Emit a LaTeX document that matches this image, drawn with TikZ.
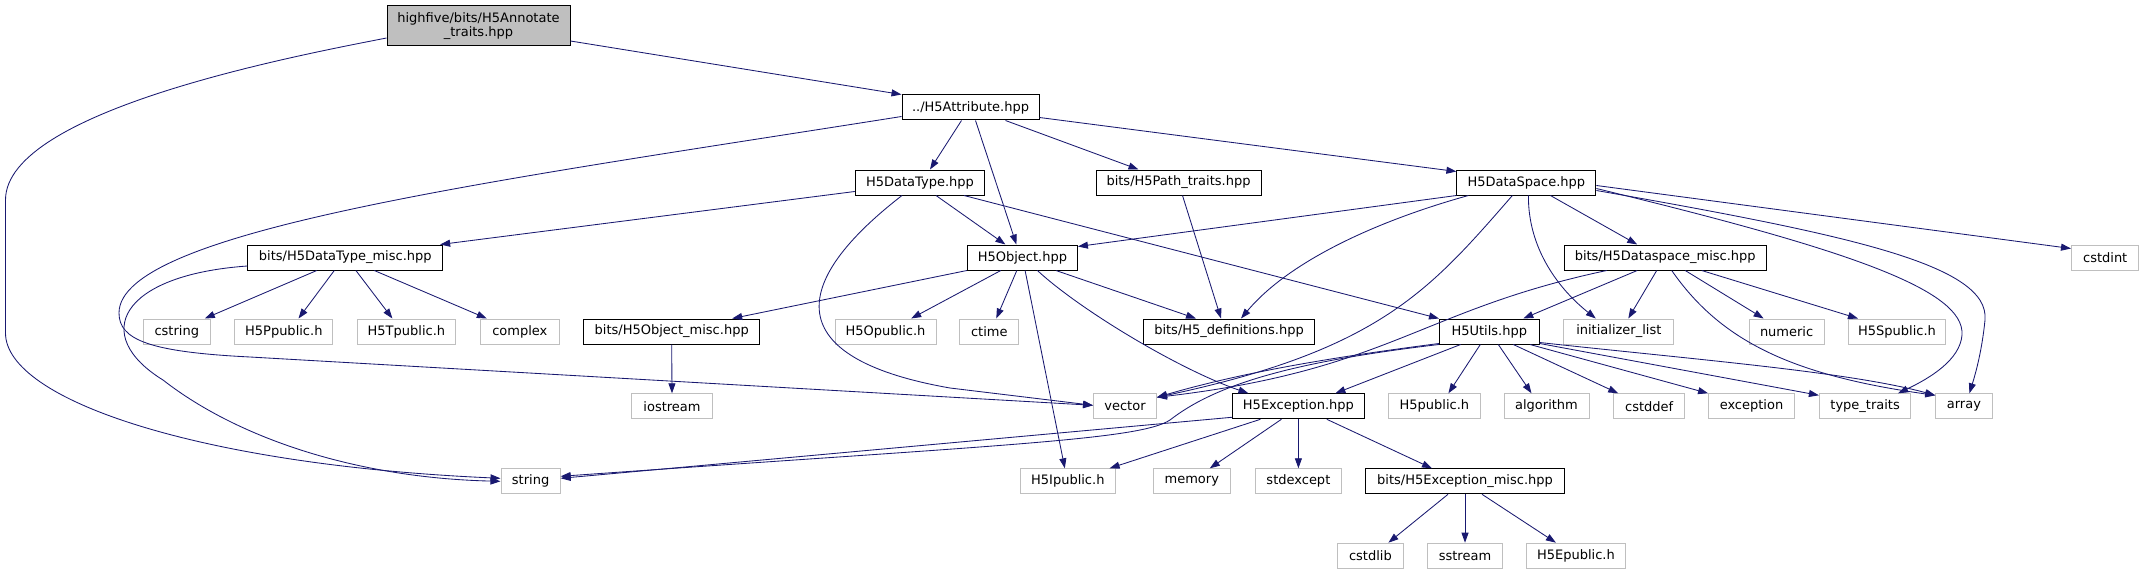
\documentclass[tikz,border=0pt]{standalone}
\usepackage{fontspec}
\setmainfont{DejaVu Sans}
\usepackage{xcolor}
\usepackage{tikz}
\usetikzlibrary{arrows.meta}

\definecolor{edgeblue}{HTML}{191970}
\definecolor{boxgray}{HTML}{BFBFBF}

\begin{document}
\begin{tikzpicture}[x=1pt,y=-1pt,>={Triangle[length=10pt,width=7pt]},
    hdr/.style={draw=black, fill=white, line width=1pt, minimum height=25pt,
      inner sep=0pt, font=\fontsize{13}{14.5}\selectfont},
    sys/.style={hdr, draw=boxgray},
    top/.style={hdr, fill=boxgray, minimum height=40pt, align=center},
    dep/.style={->, draw=edgeblue, line width=0.85pt}]
    \useasboundingbox (0,0) rectangle (2144,575);

    % header boxes
    \node[top, minimum width=183pt] (root) at (478.5,26)
      {highfive/bits/H5Annotate\\\_traits.hpp};
    \node[hdr, minimum width=137pt] (attr) at (970.5,107.5) {../H5Attribute.hpp};
    \node[hdr, minimum width=129.5pt] (dtype) at (920,182.5) {H5DataType.hpp};
    \node[hdr, minimum width=165pt] (ptraits) at (1178.5,182.5) {bits/H5Path\_traits.hpp};
    \node[hdr, minimum width=139pt] (dspace) at (1526.4,182.5) {H5DataSpace.hpp};
    \node[hdr, minimum width=194.7pt] (dtmisc) at (345.3,257.5) {bits/H5DataType\_misc.hpp};
    \node[hdr, minimum width=110pt] (obj) at (1022.4,257.5) {H5Object.hpp};
    \node[hdr, minimum width=202pt] (dsmisc) at (1665.2,257.5) {bits/H5Dataspace\_misc.hpp};
    \node[hdr, minimum width=176pt] (omisc) at (671.7,331.5) {bits/H5Object\_misc.hpp};
    \node[hdr, minimum width=170.8pt] (defs) at (1229,331.5) {bits/H5\_definitions.hpp};
    \node[hdr, minimum width=99.7pt] (utils) at (1489.3,331.5) {H5Utils.hpp};
    \node[hdr, minimum width=132.3pt] (exc) at (1298.4,406.3) {H5Exception.hpp};
    \node[hdr, minimum width=199pt] (exmisc) at (1465,481.3) {bits/H5Exception\_misc.hpp};

    % system headers
    \node[sys, minimum width=67.4pt] (cstdint) at (2105.2,257.5) {cstdint};
    \node[sys, minimum width=67pt] (cstring) at (176.8,331.5) {cstring};
    \node[sys, minimum width=98.3pt] (ppub) at (283.8,331.5) {H5Ppublic.h};
    \node[sys, minimum width=98.3pt] (tpub) at (406.4,331.5) {H5Tpublic.h};
    \node[sys, minimum width=79pt] (complex) at (519.8,331.5) {complex};
    \node[sys, minimum width=101pt] (opub) at (885.5,331.5) {H5Opublic.h};
    \node[sys, minimum width=58.8pt] (ctime) at (989.3,331.5) {ctime};
    \node[sys, minimum width=110.3pt] (initlist) at (1618.8,331.5) {initializer\_list};
    \node[sys, minimum width=74.8pt] (numeric) at (1786.6,331.5) {numeric};
    \node[sys, minimum width=97.9pt] (spub) at (1897,331.5) {H5Spublic.h};
    \node[sys, minimum width=80.3pt] (iostream) at (672,406.3) {iostream};
    \node[sys, minimum width=62.9pt] (vector) at (1125,406.3) {vector};
    \node[sys, minimum width=91.2pt] (hpub) at (1434.4,406.3) {H5public.h};
    \node[sys, minimum width=85pt] (algorithm) at (1546.5,406.3) {algorithm};
    \node[sys, minimum width=70.7pt] (cstddef) at (1649.2,406.3) {cstddef};
    \node[sys, minimum width=85.9pt] (exception) at (1751.5,406.3) {exception};
    \node[sys, minimum width=91.4pt] (typetraits) at (1865.1,406.3) {type\_traits};
    \node[sys, minimum width=56.3pt] (array) at (1963.9,406.3) {array};
    \node[sys, minimum width=59.2pt] (string) at (530.6,481.3) {string};
    \node[sys, minimum width=94.6pt] (ipub) at (1067.8,481.3) {H5Ipublic.h};
    \node[sys, minimum width=77.2pt] (memory) at (1191.8,481.3) {memory};
    \node[sys, minimum width=86.3pt] (stdexcept) at (1298.4,481.3) {stdexcept};
    \node[sys, minimum width=65.2pt] (cstdlib) at (1370.4,555.7) {cstdlib};
    \node[sys, minimum width=74.3pt] (sstream) at (1465,555.7) {sstream};
    \node[sys, minimum width=98.3pt] (epub) at (1575.9,555.7) {H5Epublic.h};

    % root includes
    \draw[dep] ([yshift=-15pt]root.east) -- (attr.north west);
    \draw[dep] ([yshift=-12pt]root.west) .. controls (300,55) and (5.5,110) .. (5.5,200)
      -- (5.5,333) .. controls (5.5,400) and (200,465) .. ([yshift=3pt]string.west);

    % H5Attribute.hpp
    \draw[dep] ([xshift=-9pt]attr.south) -- ([xshift=10pt]dtype.north);
    \draw[dep] ([xshift=5pt]attr.south) -- ([xshift=-6pt]obj.north);
    \draw[dep] ([xshift=35pt]attr.south) -- ([xshift=-40pt]ptraits.north);
    \draw[dep] ([yshift=-10pt]attr.east) -- ([yshift=-2pt]dspace.north west);
    \draw[dep] ([yshift=-9pt]attr.west) .. controls (500,180) and (119,230) .. (119,313)
      .. controls (119,340) and (150,352) .. (250,357) -- ([yshift=1pt]vector.west);

    % H5DataType.hpp
    \draw[dep] ([yshift=-9pt]dtype.west) -- ([xshift=-3pt]dtmisc.north east);
    \draw[dep] ([xshift=16pt]dtype.south) -- ([xshift=-17pt]obj.north);
    \draw[dep] ([xshift=44pt]dtype.south) -- (utils.north west);
    \draw[dep] ([xshift=-18pt]dtype.south) .. controls (780,290) and (790,360) .. (950,388)
      -- ([yshift=1pt]vector.west);

    % bits/H5Path_traits.hpp
    \draw[dep] ([xshift=4pt]ptraits.south) -- ([xshift=-8pt]defs.north);

    % H5DataSpace.hpp
    \draw[dep] (dspace.south west) -- ([yshift=-2pt]obj.north east);
    \draw[dep] ([xshift=-58pt]dspace.south) .. controls (1380,220) and (1290,260)
      .. ([xshift=12pt]defs.north);
    \draw[dep] ([xshift=-14pt]dspace.south) .. controls (1430,290) and (1380,350)
      .. ([yshift=9pt]vector.east);
    \draw[dep] ([xshift=2pt]dspace.south) .. controls (1528,250) and (1560,290)
      .. ([xshift=-23pt]initlist.north);
    \draw[dep] ([xshift=24pt]dspace.south) -- ([xshift=-28pt]dsmisc.north);
    \draw[dep] ([yshift=-6pt]dspace.east) .. controls (1850,250) and (1965,290) .. (1962,335)
      .. controls (1960,360) and (1930,378) .. ([xshift=33pt]typetraits.north);
    \draw[dep] ([yshift=-8pt]dspace.east) .. controls (1850,235) and (1990,265) .. (1985,320)
      .. controls (1982,350) and (1976,372) .. ([xshift=5.5pt]array.north);
    \draw[dep] ([yshift=-3pt]dspace.east) -- ([yshift=-4pt]cstdint.north west);

    % bits/H5DataType_misc.hpp
    \draw[dep] ([xshift=-28.5pt]dtmisc.south) -- ([xshift=28pt]cstring.north);
    \draw[dep] ([xshift=-11pt]dtmisc.south) -- ([xshift=14.7pt]ppub.north);
    \draw[dep] ([xshift=10.6pt]dtmisc.south) -- ([xshift=-14pt]tpub.north);
    \draw[dep] ([xshift=29pt]dtmisc.south) -- ([xshift=-33pt]complex.north);
    \draw[dep] ([yshift=-8.5pt]dtmisc.west) .. controls (120,275) and (90,335) .. (163,380)
      .. controls (240,440) and (360,478) .. (string.west);

    % H5Object.hpp
    \draw[dep] (obj.south west) -- ([xshift=-28pt]omisc.north east);
    \draw[dep] ([xshift=-21.6pt]obj.south) -- ([xshift=25.7pt]opub.north);
    \draw[dep] ([xshift=-5.6pt]obj.south) -- ([xshift=7pt]ctime.north);
    \draw[dep] ([xshift=2.7pt]obj.south) -- ([xshift=-3pt]ipub.north);
    \draw[dep] ([xshift=15pt]obj.south) .. controls (1080,310) and (1180,370)
      .. ([xshift=-50pt]exc.north);
    \draw[dep] ([xshift=33.5pt]obj.south) -- ([xshift=-33pt]defs.north);

    % bits/H5Object_misc.hpp
    \draw[dep] (omisc.south) -- (iostream.north);

    % bits/H5Dataspace_misc.hpp
    \draw[dep] ([xshift=-28pt]dsmisc.south) -- ([xshift=34pt]utils.north);
    \draw[dep] ([xshift=-8.5pt]dsmisc.south) -- ([xshift=9.5pt]initlist.north);
    \draw[dep] ([xshift=20pt]dsmisc.south) -- ([xshift=-23pt]numeric.north);
    \draw[dep] ([xshift=36.5pt]dsmisc.south) -- ([xshift=-39pt]spub.north);
    \draw[dep] ([xshift=-58.5pt]dsmisc.south) .. controls (1420,310) and (1390,370)
      .. ([yshift=9pt]vector.east);
    \draw[dep] ([xshift=6.5pt]dsmisc.south) .. controls (1720,340) and (1790,375)
      .. ([yshift=-2pt]array.north west);

    % H5Utils.hpp
    \draw[dep] ([yshift=1pt]utils.south west) .. controls (1350,355) and (1250,370)
      .. ([yshift=9pt]vector.east);
    \draw[dep] (utils.south west) .. controls (1290,362) and (1215,385) .. (1170,420)
      .. controls (1140,440) and (1000,445) .. ([yshift=5pt]string.east);
    \draw[dep] ([xshift=-28.7pt]utils.south) -- ([xshift=37pt]exc.north);
    \draw[dep] ([xshift=-9pt]utils.south) -- ([xshift=14pt]hpub.north);
    \draw[dep] ([xshift=9pt]utils.south) -- ([xshift=-15pt]algorithm.north);
    \draw[dep] ([xshift=24pt]utils.south) -- ([xshift=-31pt]cstddef.north);
    \draw[dep] ([xshift=40.7pt]utils.south) -- (exception.north west);
    \draw[dep] ([yshift=1pt]utils.south east) -- ([yshift=-2pt]typetraits.north west);
    \draw[dep] ([yshift=2pt]utils.south east) .. controls (1700,360) and (1850,372)
      .. ([yshift=-2pt]array.north west);

    % H5Exception.hpp
    \draw[dep] ([yshift=-11pt]exc.west) -- ([yshift=3pt]string.east);
    \draw[dep] ([xshift=-38pt]exc.south) -- ([xshift=-6pt]ipub.north east);
    \draw[dep] ([xshift=-17pt]exc.south) -- ([xshift=18pt]memory.north);
    \draw[dep] (exc.south) -- (stdexcept.north);
    \draw[dep] ([xshift=28.4pt]exc.south) -- ([xshift=-33pt]exmisc.north);

    % bits/H5Exception_misc.hpp
    \draw[dep] ([xshift=-17pt]exmisc.south) -- ([xshift=18pt]cstdlib.north);
    \draw[dep] (exmisc.south) -- (sstream.north);
    \draw[dep] ([xshift=17pt]exmisc.south) -- ([xshift=-20pt]epub.north);
\end{tikzpicture}
\end{document}
